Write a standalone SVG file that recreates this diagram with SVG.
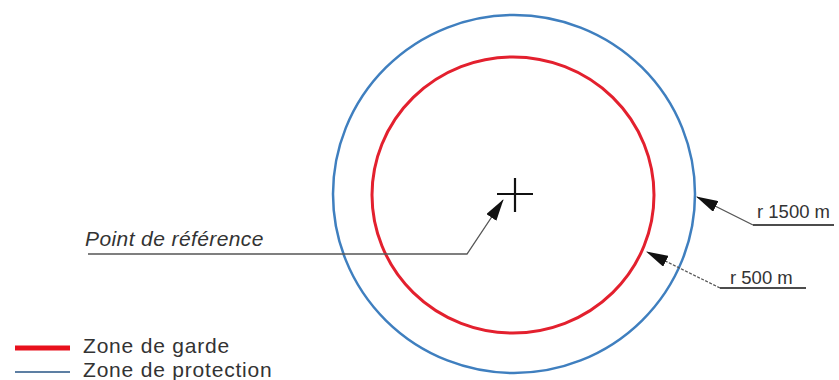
<svg xmlns="http://www.w3.org/2000/svg" width="839" height="380" viewBox="0 0 839 380">
<defs>
<marker id="ah" viewBox="0 0 22 12" refX="21" refY="6" markerWidth="22" markerHeight="12" markerUnits="userSpaceOnUse" orient="auto">
<path d="M0,0 L22,6 L0,12 Z" fill="#111"/>
</marker>
<style>
.lbl{font-family:"Liberation Sans",Arial,sans-serif;fill:#333}
.lead{fill:none;stroke:#555;stroke-width:1.3}
.ul{stroke:#111;stroke-width:1.6}
</style>
</defs>
<rect width="839" height="380" fill="#fff"/>
<g id="zone-protection"><ellipse cx="514" cy="194" rx="181" ry="179" fill="none" stroke="#3f7fbf" stroke-width="2.5"/></g>
<g id="zone-garde"><ellipse cx="513" cy="195" rx="141" ry="138" fill="none" stroke="#e3202e" stroke-width="3"/></g>
<g id="point-reference">
<path d="M497,194 H533 M515,178 V212" stroke="#111" stroke-width="2.2" fill="none"/>
<text class="lbl" x="85" y="246" font-size="21" font-style="italic" letter-spacing="0.4">Point de référence</text>
</g>
<g id="label-1500"><text class="lbl" x="757" y="218" font-size="18.5">r 1500 m</text></g>
<g id="label-500"><text class="lbl" x="730" y="284" font-size="18.5">r 500 m</text></g>
<g id="connectors">
<path class="lead" d="M88,254 H467 L503,200" marker-end="url(#ah)"/>
<line class="ul" x1="753" y1="225" x2="834" y2="225"/>
<path class="lead" d="M753,225 L697,197" marker-end="url(#ah)"/>
<line class="ul" x1="720" y1="288" x2="806" y2="288"/>
<path class="lead" d="M720,288 L647,252" stroke="#111" stroke-dasharray="3,1.5" marker-end="url(#ah)"/>
</g>
<g id="legend">
<line x1="15" y1="348" x2="70" y2="348" stroke="#e8101c" stroke-width="5"/>
<line x1="15" y1="372" x2="70" y2="372" stroke="#5d7fa3" stroke-width="2"/>
<text class="lbl" x="83" y="353" font-size="21" letter-spacing="0.8">Zone de garde</text>
<text class="lbl" x="83" y="377" font-size="21" letter-spacing="0.8">Zone de protection</text>
</g>
</svg>
